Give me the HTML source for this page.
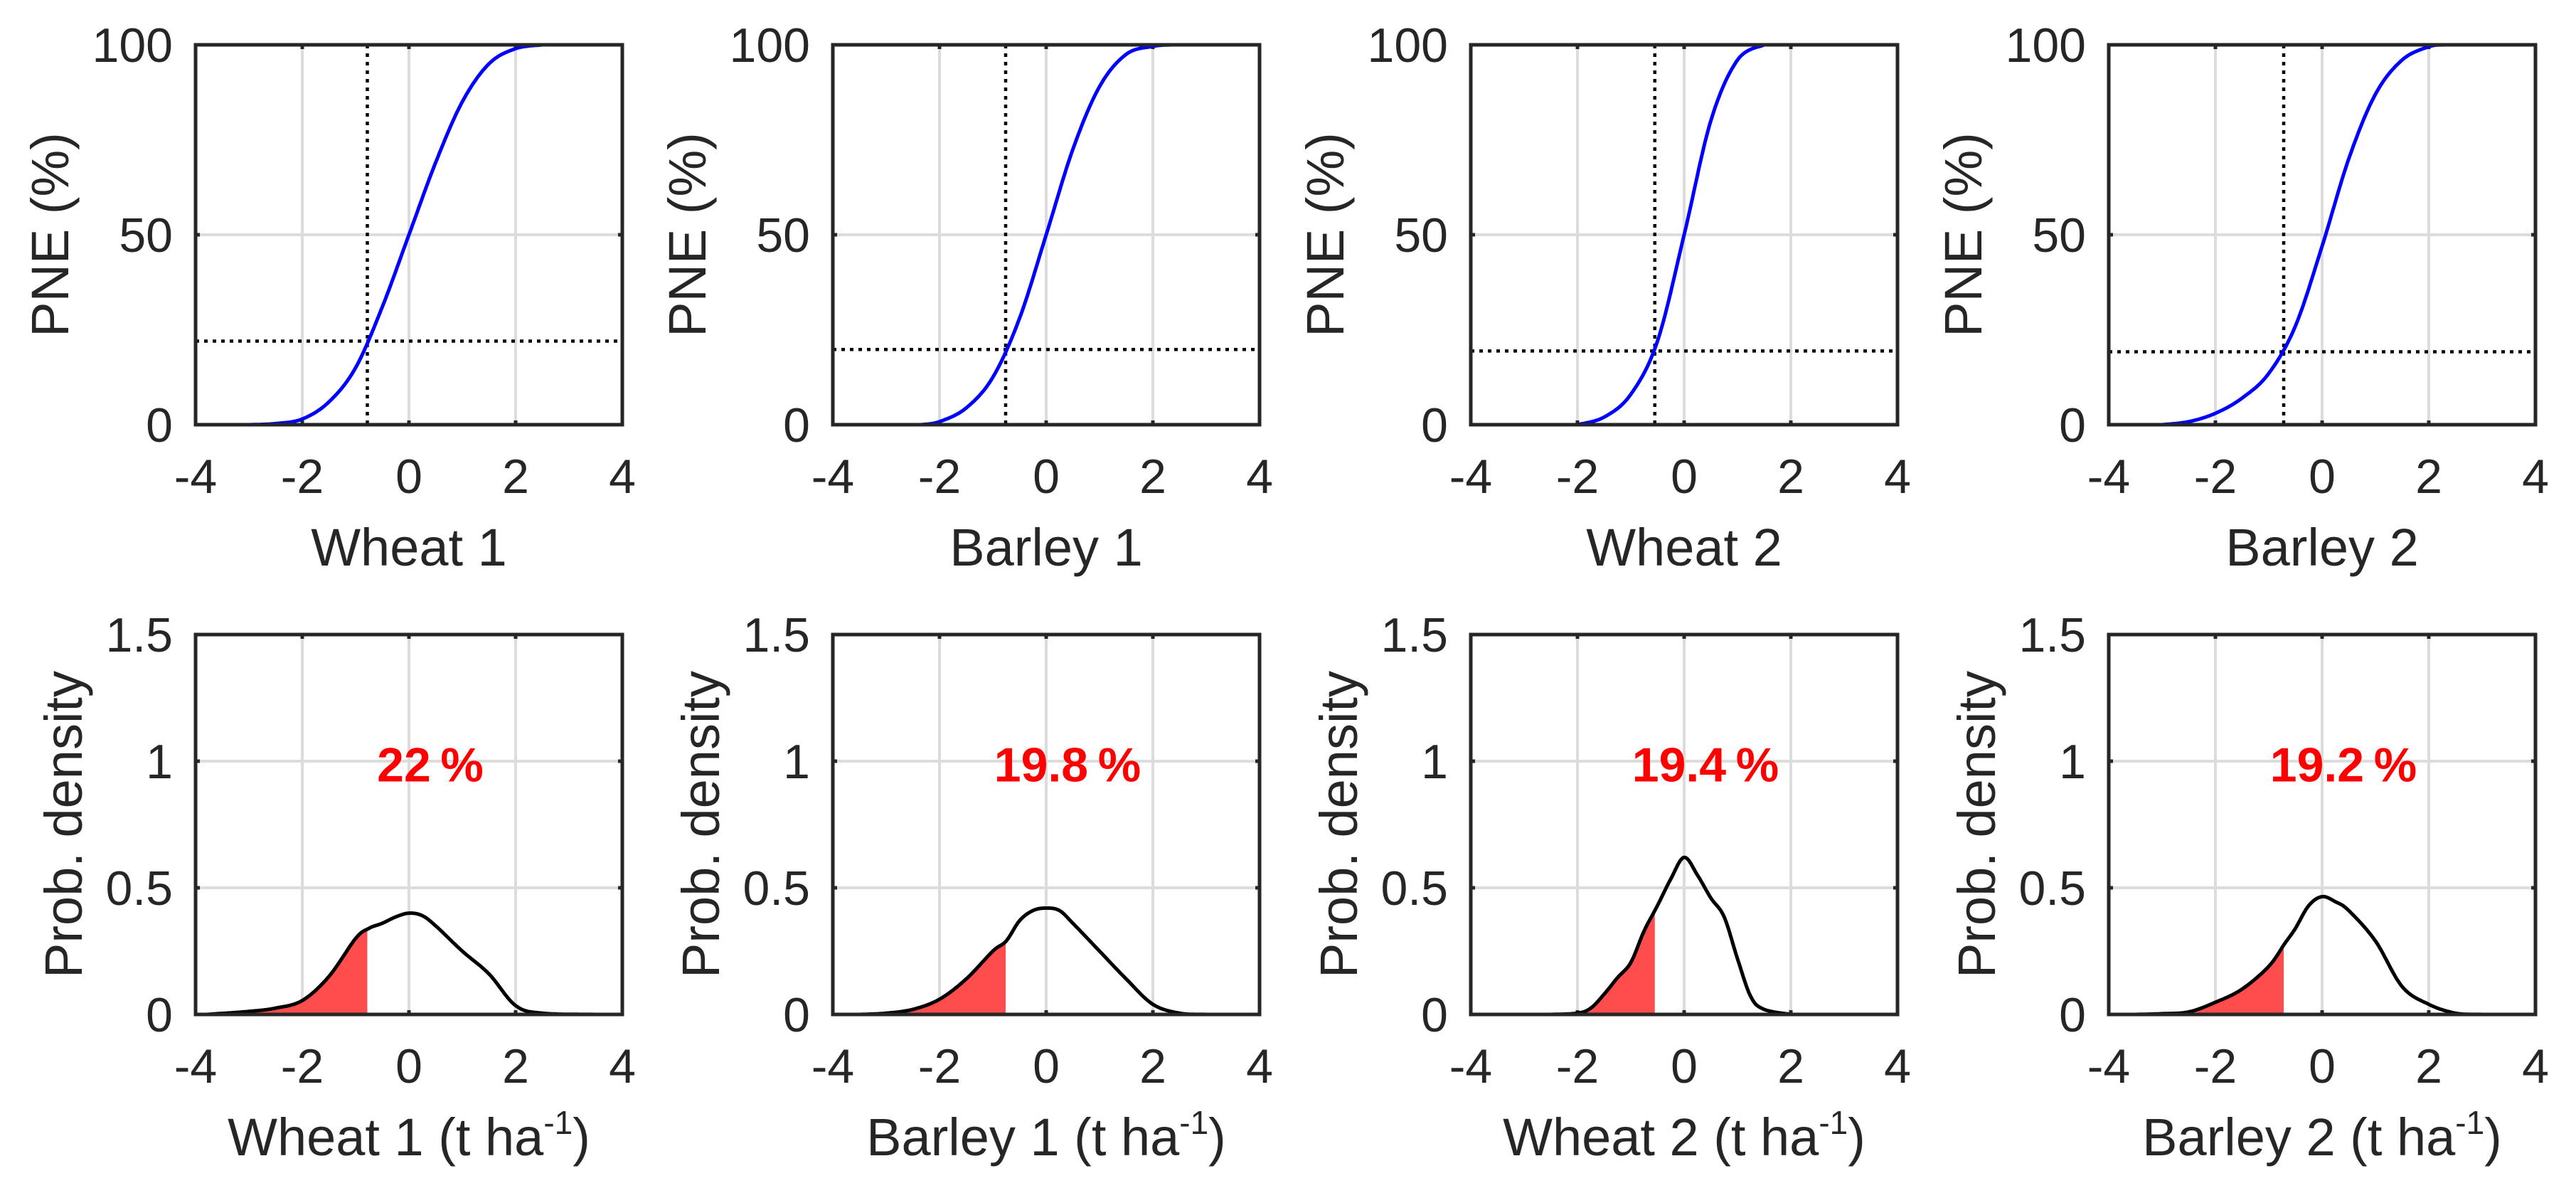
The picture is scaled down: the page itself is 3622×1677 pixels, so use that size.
<!DOCTYPE html>
<html><head><meta charset="utf-8">
<style>
html,body{margin:0;padding:0;background:#fff;}
svg{display:block;font-family:"Liberation Sans",Arial,sans-serif;}
</style></head>
<body>
<svg id="fig" width="3622" height="1677" viewBox="0 0 3622 1677" xmlns="http://www.w3.org/2000/svg"></svg>
<script>
// ---- data ----
const cropNames = ["Wheat 1", "Barley 1", "Wheat 2", "Barley 2"];
const xTicks = [-4, -2, 0, 2, 4];
const xTickLabels = ["-4", "-2", "0", "2", "4"];
const cdfTicks = [0, 50, 100];
const cdfTickLabels = ["0", "50", "100"];
const pdfTicks = [0, 0.5, 1, 1.5];
const pdfTickLabels = ["0", "0.5", "1", "1.5"];
const thresholdX = [-0.78, -0.76, -0.55, -0.72];
const pneValues = [22, 19.8, 19.4, 19.2];
const pneLabels = ["22\u2009%", "19.8\u2009%", "19.4\u2009%", "19.2\u2009%"];

// CDF curves (PNE %)
const cdfX0 = [-3, -2.5, -2, -1.5, -1, -0.5, 0, 0.5, 1, 1.5, 2, 2.5];
const cdfY0 = [0, 0.3, 1.5, 6, 15, 31, 50, 69, 85, 95, 99, 100];
const cdfX1 = [-2.35, -2, -1.5, -1, -0.5, 0, 0.5, 1, 1.5, 2, 2.35];
const cdfY1 = [0, 0.8, 4.4, 12.5, 28, 50, 72.5, 89, 97.5, 99.6, 100];
const cdfX2 = [-2, -1.5, -1, -0.5, 0, 0.5, 1, 1.5];
const cdfY2 = [0, 2, 8, 22, 50, 80, 96, 100];
const cdfX3 = [-3, -2.5, -2, -1.5, -1, -0.5, 0, 0.5, 1, 1.5, 2, 2.3];
const cdfY3 = [0, 0.8, 3, 7, 13.5, 26, 47, 70, 87, 96, 99.5, 100];

// Density curves
const pdfX0 = [-3.8, -3, -2.5, -2, -1.5, -1, -0.75, -0.5, -0.25, 0, 0.25, 0.5, 1, 1.5, 2, 2.5, 3.5];
const pdfY0 = [0, 0.012, 0.025, 0.055, 0.15, 0.3, 0.34, 0.36, 0.385, 0.4, 0.39, 0.35, 0.25, 0.16, 0.035, 0.005, 0];
const pdfX1 = [-3.5, -3, -2.5, -2, -1.5, -1, -0.75, -0.5, -0.25, 0, 0.25, 0.5, 1, 1.5, 2, 2.5, 3];
const pdfY1 = [0, 0.005, 0.02, 0.06, 0.14, 0.25, 0.29, 0.37, 0.41, 0.42, 0.41, 0.36, 0.25, 0.14, 0.04, 0.005, 0];
const pdfX2 = [-2.5, -2, -1.75, -1.5, -1.25, -1, -0.75, -0.5, -0.25, 0, 0.25, 0.5, 0.75, 1, 1.25, 1.5, 2];
const pdfY2 = [0, 0.005, 0.025, 0.08, 0.145, 0.205, 0.33, 0.43, 0.535, 0.62, 0.55, 0.46, 0.385, 0.22, 0.07, 0.02, 0];
const pdfX3 = [-3.5, -3, -2.5, -2, -1.5, -1, -0.7, -0.5, -0.25, 0, 0.25, 0.5, 1, 1.5, 2, 2.5, 3];
const pdfY3 = [0, 0.003, 0.01, 0.048, 0.1, 0.19, 0.28, 0.34, 0.43, 0.465, 0.445, 0.41, 0.29, 0.11, 0.04, 0.005, 0];

const cdfXs = [cdfX0, cdfX1, cdfX2, cdfX3];
const cdfYs = [cdfY0, cdfY1, cdfY2, cdfY3];
const pdfXs = [pdfX0, pdfX1, pdfX2, pdfX3];
const pdfYs = [pdfY0, pdfY1, pdfY2, pdfY3];

// ---- layout ----
const NS = "http://www.w3.org/2000/svg";
const svg = document.getElementById("fig");
const lefts = [275, 1171, 2068, 2965];
const W = 600, H = 534;
const rowTop = [63, 892];
const TXT = "#262626";

function mk(tag, attrs, parent) {
  const e = document.createElementNS(NS, tag);
  for (const k in attrs) e.setAttribute(k, attrs[k]);
  (parent || svg).appendChild(e);
  return e;
}
function sampleSpline(xs, ys) {
  const out = [];
  const n = xs.length;
  for (let i = 0; i < n - 1; i++) {
    const x0 = xs[Math.max(0, i - 1)], y0 = ys[Math.max(0, i - 1)];
    const x1 = xs[i], y1 = ys[i], x2 = xs[i + 1], y2 = ys[i + 1];
    const x3 = xs[Math.min(n - 1, i + 2)], y3 = ys[Math.min(n - 1, i + 2)];
    for (let s = 0; s < 20; s++) {
      const t = s / 20, t2 = t * t, t3 = t2 * t;
      const f = (p0, p1, p2, p3) => 0.5 * (2 * p1 + (-p0 + p2) * t + (2 * p0 - 5 * p1 + 4 * p2 - p3) * t2 + (-p0 + 3 * p1 - 3 * p2 + p3) * t3);
      out.push([f(x0, x1, x2, x3), Math.max(0, f(y0, y1, y2, y3))]);
    }
  }
  out.push([xs[n - 1], ys[n - 1]]);
  return out;
}

function drawAxes(p, row, yTicks, yTickLabels, yMax, ylabel, ylabelOff, xlabelNode) {
  const L = lefts[p], T = rowTop[row], B = T + H, R = L + W;
  const sx = v => L + (v + 4) / 8 * W;
  const sy = v => B - v / yMax * H;
  const g = mk("g", {});
  
  
  xTicks.forEach((t, i) => {
    if (i > 0 && i < xTicks.length - 1) {
      const l = mk("line", {x1: sx(t), x2: sx(t), y1: T, y2: B, stroke: "#dcdcdc", "stroke-width": 4}, g);
      
      
    }
  });
  yTicks.forEach((t, i) => {
    if (i > 0 && i < yTicks.length - 1) {
      const l = mk("line", {x1: L, x2: R, y1: sy(t), y2: sy(t), stroke: "#dcdcdc", "stroke-width": 4}, g);
      
      
    }
  });
  xTicks.forEach((t, i) => {
    const tx = mk("text", {x: sx(t), y: B + 96, "font-size": 68, fill: TXT, "text-anchor": "middle"}, g);
    tx.textContent = xTickLabels[i];
    
    
    mk("line", {x1: sx(t), x2: sx(t), y1: B, y2: B - 6, stroke: TXT, "stroke-width": 5}, g);
    mk("line", {x1: sx(t), x2: sx(t), y1: T, y2: T + 6, stroke: TXT, "stroke-width": 5}, g);
  });
  yTicks.forEach((t, i) => {
    const tx = mk("text", {x: L - 32, y: sy(t) + 24, "font-size": 68, fill: TXT, "text-anchor": "end"}, g);
    tx.textContent = yTickLabels[i];
    
    
    mk("line", {x1: L, x2: L + 6, y1: sy(t), y2: sy(t), stroke: TXT, "stroke-width": 5}, g);
    mk("line", {x1: R, x2: R - 6, y1: sy(t), y2: sy(t), stroke: TXT, "stroke-width": 5}, g);
  });
  const yl = mk("text", {x: 0, y: 0, "font-size": 74, fill: TXT, "text-anchor": "middle",
    transform: `translate(${L - ylabelOff},${(T + B) / 2}) rotate(-90)`}, g);
  yl.textContent = ylabel;
  
  
  const xl = mk("text", {x: (L + R) / 2, y: B + 198, "font-size": 74, fill: TXT, "text-anchor": "middle"}, g);
  
  
  xlabelNode(xl);
  return {g, sx, sy, L, T, B, R};
}
function frame(ax) {
  const f = mk("rect", {x: ax.L, y: ax.T, width: W, height: H, fill: "none", stroke: TXT, "stroke-width": 5}, ax.g);
  
  
}

for (let p = 0; p < 4; p++) {
  const a = drawAxes(p, 0, cdfTicks, cdfTickLabels, 100, "PNE (%)", 179, n => { n.textContent = cropNames[p]; });
  const pts = sampleSpline(cdfXs[p], cdfYs[p]).map(q => [q[0], Math.min(100, q[1])]);
  const hl = mk("line", {x1: a.L, x2: a.R, y1: a.sy(pneValues[p]), y2: a.sy(pneValues[p]), stroke: "#000", "stroke-width": 4.5, "stroke-dasharray": "5 7"}, a.g);
  
  
  const vl = mk("line", {x1: a.sx(thresholdX[p]), x2: a.sx(thresholdX[p]), y1: a.T, y2: a.B, stroke: "#000", "stroke-width": 4.5, "stroke-dasharray": "5 7"}, a.g);
  
  
  const cl = mk("path", {d: "M" + pts.map(q => a.sx(q[0]).toFixed(1) + "," + a.sy(q[1]).toFixed(1)).join("L"), fill: "none", stroke: "#0000ff", "stroke-width": 5, "stroke-linejoin": "round"}, a.g);
  
  
  frame(a);

  const b = drawAxes(p, 1, pdfTicks, pdfTickLabels, 1.5, "Prob. density", 160, n => {
    n.appendChild(document.createTextNode(cropNames[p] + " (t ha"));
    const s = document.createElementNS(NS, "tspan");
    s.setAttribute("font-size", 46); s.setAttribute("dy", -30);
    s.textContent = "-1";
    n.appendChild(s);
    const s2 = document.createElementNS(NS, "tspan");
    s2.setAttribute("dy", 30);
    s2.textContent = ")";
    n.appendChild(s2);
  });
  const dp = sampleSpline(pdfXs[p], pdfYs[p]);
  const th = thresholdX[p];
  const fillPts = dp.filter(q => q[0] <= th);
  let yth = 0;
  for (let i = 0; i < dp.length - 1; i++) {
    if (dp[i][0] <= th && dp[i + 1][0] >= th) {
      const f = (th - dp[i][0]) / (dp[i + 1][0] - dp[i][0]);
      yth = dp[i][1] + f * (dp[i + 1][1] - dp[i][1]);
    }
  }
  fillPts.push([th, yth]);
  const fd = "M" + b.sx(fillPts[0][0]) + "," + b.sy(0) + "L" + fillPts.map(q => b.sx(q[0]).toFixed(1) + "," + b.sy(q[1]).toFixed(1)).join("L") + "L" + b.sx(th) + "," + b.sy(0) + "Z";
  const fa = mk("path", {d: fd, fill: "#ff4d4d", stroke: "none"}, b.g);
  
  
  const dl = mk("path", {d: "M" + dp.map(q => b.sx(q[0]).toFixed(1) + "," + b.sy(q[1]).toFixed(1)).join("L"), fill: "none", stroke: "#000", "stroke-width": 5, "stroke-linejoin": "round"}, b.g);
  
  
  const pt = mk("text", {x: b.L + 330, y: b.sy(0.92), "font-size": 68, "font-weight": "bold", fill: "#ff0000", "text-anchor": "middle"}, b.g);
  pt.textContent = pneLabels[p];
  
  
  frame(b);
}
</script>
</body></html>
